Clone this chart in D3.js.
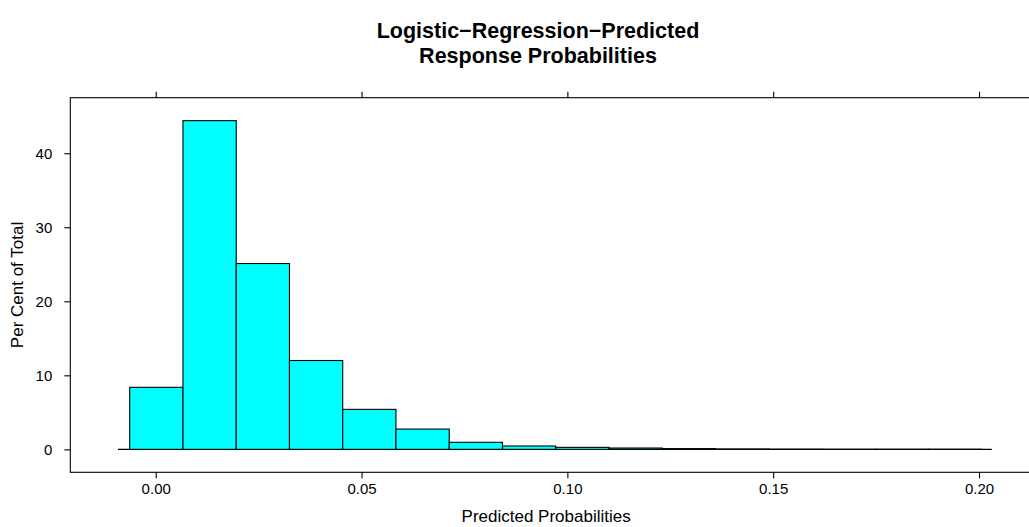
<!DOCTYPE html>
<html>
<head>
<meta charset="utf-8">
<script src="https://cdn.jsdelivr.net/npm/d3@7"></script>
<style>
  html, body { margin: 0; padding: 0; background: #fff; }
  svg { display: block; }
  text { font-family: "Liberation Sans", Arial, Helvetica, sans-serif; fill: #000; }
</style>
</head>
<body>
<svg id="chart" width="1029" height="527"></svg>
<script>
// Histogram bin breaks (predicted probability) and percent of total per bin
const binBreaks = [-0.00632, 0.00662, 0.01956, 0.03249, 0.04543, 0.05836, 0.07130, 0.08424,
                   0.09717, 0.11011, 0.12304, 0.13598, 0.14892, 0.16185, 0.17479, 0.18772, 0.20066];
const percentOfTotal = [8.38, 44.4, 25.1, 12.0, 5.4, 2.74, 0.95, 0.45,
                        0.27, 0.18, 0.10, 0.05, 0.02, 0.01, 0.01, 0.01];
const baselineExtent = [-0.00916, 0.2031];

const xTicks = [0.00, 0.05, 0.10, 0.15, 0.20];
const xTickLabels = ["0.00", "0.05", "0.10", "0.15", "0.20"];
const yTicks = [0, 10, 20, 30, 40];
const yTickLabels = ["0", "10", "20", "30", "40"];

const titleLines = ["Logistic\u2212Regression\u2212Predicted", "Response Probabilities"];
const xLabel = "Predicted Probabilities";
const yLabel = "Per Cent of Total";

// Panel layout
const panel = { left: 70.3, right: 1030, top: 97.7, bottom: 472.3 };
const xLim = [-0.02075, -0.02075 + (panel.right - panel.left) / 4116.5];
const yLim = [-3.1, 47.5];

const svg = d3.select("#chart");

const x = d3.scaleLinear().domain(xLim).range([panel.left, panel.right]);
const y = d3.scaleLinear().domain(yLim).range([panel.bottom, panel.top]);

// Bars
const bins = percentOfTotal.map((v, i) => ({ x0: binBreaks[i], x1: binBreaks[i + 1], v }));

svg.append("line")
  .attr("x1", x(baselineExtent[0])).attr("x2", x(baselineExtent[1]))
  .attr("y1", y(0)).attr("y2", y(0))
  .attr("stroke", "#000").attr("stroke-width", 1.2);

svg.append("g").selectAll("rect")
  .data(bins)
  .join("rect")
  .attr("x", d => x(d.x0))
  .attr("width", d => x(d.x1) - x(d.x0))
  .attr("y", d => y(d.v))
  .attr("height", d => y(0) - y(d.v))
  .attr("fill", "#00FFFF")
  .attr("stroke", "#000")
  .attr("stroke-width", 1.1);

// Panel border
svg.append("rect")
  .attr("x", panel.left).attr("y", panel.top)
  .attr("width", panel.right - panel.left).attr("height", panel.bottom - panel.top)
  .attr("fill", "none").attr("stroke", "#000").attr("stroke-width", 1.1);

// Axes
const tickFont = 15;
const xAxisBottom = d3.axisBottom(x).tickValues(xTicks)
  .tickFormat((d, i) => xTickLabels[i]).tickSizeInner(6).tickSizeOuter(0).tickPadding(5);
const gxb = svg.append("g").attr("transform", `translate(0,${panel.bottom})`).call(xAxisBottom);
gxb.select(".domain").remove();
gxb.selectAll("text").attr("font-size", tickFont).attr("font-family", null);

const xAxisTop = d3.axisTop(x).tickValues(xTicks).tickFormat("").tickSizeInner(6).tickSizeOuter(0);
const gxt = svg.append("g").attr("transform", `translate(0,${panel.top})`).call(xAxisTop);
gxt.select(".domain").remove();

const yAxisLeft = d3.axisLeft(y).tickValues(yTicks)
  .tickFormat((d, i) => yTickLabels[i]).tickSizeInner(6).tickSizeOuter(0).tickPadding(12);
const gyl = svg.append("g").attr("transform", `translate(${panel.left},0)`).call(yAxisLeft);
gyl.select(".domain").remove();
gyl.selectAll("text").attr("font-size", tickFont).attr("font-family", null);

svg.selectAll(".tick line").attr("stroke", "#000").attr("stroke-width", 1.1);

// Titles and axis labels
const title = svg.append("text")
  .attr("text-anchor", "middle")
  .attr("font-size", 21.5).attr("font-weight", "bold");
titleLines.forEach((t, i) => {
  title.append("tspan").attr("x", 538).attr("y", 38 + i * 25).text(t);
});

svg.append("text")
  .attr("x", (panel.left + 1022) / 2).attr("y", 522)
  .attr("text-anchor", "middle").attr("font-size", 17)
  .text(xLabel);

svg.append("text")
  .attr("transform", `translate(23,${(panel.top + panel.bottom) / 2}) rotate(-90)`)
  .attr("text-anchor", "middle").attr("font-size", 17)
  .text(yLabel);
</script>
</body>
</html>
